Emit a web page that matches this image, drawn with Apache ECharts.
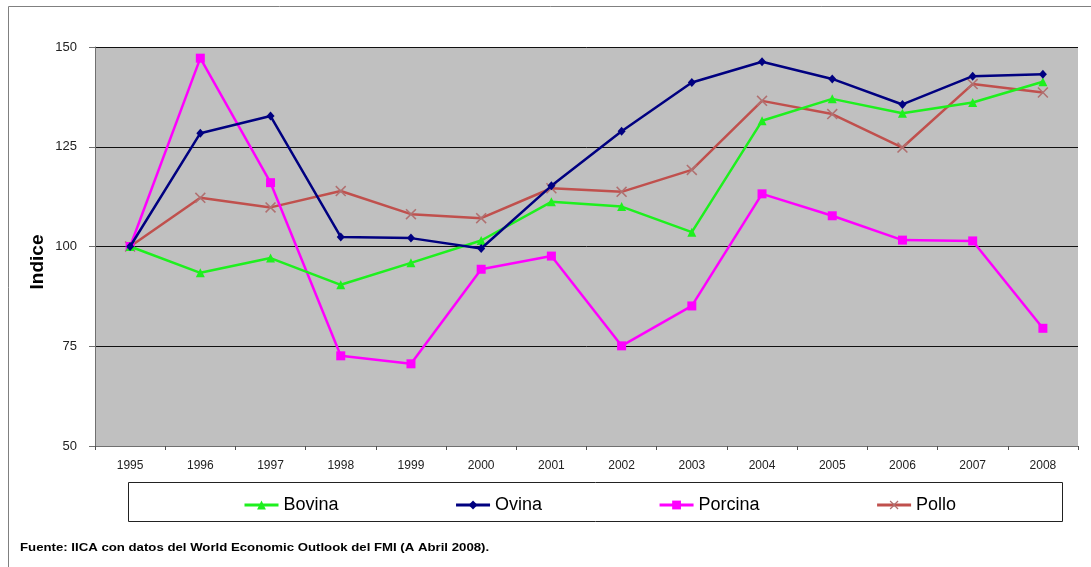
<!DOCTYPE html>
<html>
<head>
<meta charset="utf-8">
<script src="https://cdn.jsdelivr.net/npm/echarts@6/dist/echarts.min.js"></script>
<style>html,body{margin:0;padding:0;background:#fff;}#c{width:1091px;height:567px;}</style>
</head>
<body>
<div id="c"></div>
<script>
var years = ['1995','1996','1997','1998','1999','2000','2001','2002','2003','2004','2005','2006','2007','2008'];
var bovina  = [100, 93.4, 97.1, 90.4, 95.9, 101.5, 111.2, 110.0, 103.6, 131.5, 137.0, 133.4, 136.1, 141.3];
var ovina   = [100, 128.4, 132.7, 102.4, 102.1, 99.5, 115.2, 128.9, 141.1, 146.3, 142.0, 135.6, 142.7, 143.2];
var porcina = [100, 147.2, 116.0, 72.6, 70.6, 94.3, 97.6, 75.1, 85.1, 113.2, 107.7, 101.6, 101.4, 79.5];
var pollo   = [100, 112.2, 109.8, 113.9, 108.1, 107.1, 114.6, 113.7, 119.2, 136.5, 133.2, 124.8, 140.7, 138.6];
var yTicks = [50, 75, 100, 125, 150];

var crossPath = 'path://M0,1 L1,0 L5,4 L9,0 L10,1 L6,5 L10,9 L9,10 L5,6 L1,10 L0,9 L4,5 Z';

var chart = echarts.init(document.getElementById('c'));
chart.setOption({
  animation: false,
  backgroundColor: '#fff',
  grid: {left: 95, top: 47, right: 13, bottom: 121, show: true, backgroundColor: '#C0C0C0', borderWidth: 0},
  xAxis: {
    type: 'category', data: years, boundaryGap: true,
    axisLine: {lineStyle: {color: '#707070', width: 1}},
    axisTick: {show: true, length: 4, lineStyle: {color: '#505050'}},
    axisLabel: {color: '#222', fontSize: 12, fontFamily: 'Arial, Liberation Sans', margin: 14}
  },
  yAxis: {
    type: 'value', min: yTicks[0], max: yTicks[yTicks.length - 1], interval: 25,
    axisLine: {show: true, lineStyle: {color: '#707070'}},
    axisTick: {show: true, length: 6, lineStyle: {color: '#707070'}},
    splitLine: {show: true, lineStyle: {color: '#111', width: 1}},
    axisLabel: {color: '#222', fontSize: 13, fontFamily: 'Arial, Liberation Sans', margin: 18}
  },
  legend: {
    left: 243, top: 496, padding: 0, itemGap: 116, itemWidth: 34, itemHeight: 11,
    lineStyle: {width: 3},
    textStyle: {fontSize: 18, fontFamily: 'Arial, Liberation Sans', color: '#000', padding: [0, 0, 0, 0]},
    data: ['Bovina', 'Ovina', 'Porcina', 'Pollo']
  },
  graphic: [
    {type: 'rect', shape: {x: 8.5, y: 6.5, width: 1100, height: 600}, style: {fill: 'none', stroke: '#808080', lineWidth: 1}, z: -10},
    {type: 'rect', shape: {x: 128.5, y: 482.5, width: 934, height: 39}, style: {fill: '#fff', stroke: '#222', lineWidth: 1}, z: -5},
    {type: 'text', x: 38, y: 262, rotation: Math.PI / 2,
      style: {text: 'Indice', fontSize: 19, fontWeight: 'bold', fontFamily: 'Arial, Liberation Sans', fill: '#000', textAlign: 'center', textVerticalAlign: 'middle'}},
    {type: 'text', x: 20, y: 548, scaleX: 1.2,
      style: {text: 'Fuente: IICA con datos del World Economic Outlook del FMI (A Abril 2008).', fontSize: 11, fontWeight: 'bold', fontFamily: 'Arial, Liberation Sans', fill: '#000', textVerticalAlign: 'middle'}}
  ],
  series: [
    {name: 'Bovina', type: 'line', data: bovina, symbol: 'triangle', symbolSize: 9,
      lineStyle: {color: '#1EF01E', width: 2.5}, itemStyle: {color: '#1EF01E'}, z: 3},
    {name: 'Ovina', type: 'line', data: ovina, symbol: 'diamond', symbolSize: [8, 9],
      lineStyle: {color: '#000080', width: 2.5}, itemStyle: {color: '#000080'}, z: 4},
    {name: 'Porcina', type: 'line', data: porcina, symbol: 'rect', symbolSize: 9,
      lineStyle: {color: '#FF00FF', width: 2.5}, itemStyle: {color: '#FF00FF'}, z: 2},
    {name: 'Pollo', type: 'line', data: pollo, symbol: crossPath, symbolSize: 11,
      lineStyle: {color: '#C0504D', width: 2.5}, itemStyle: {color: '#B07070'}, z: 1}
  ]
});
</script>
</body>
</html>
